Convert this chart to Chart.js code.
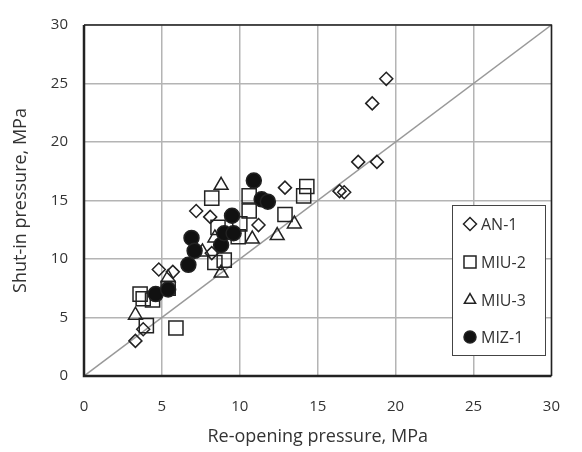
<!DOCTYPE html>
<html>
<head>
<meta charset="utf-8">
<script src="https://cdn.jsdelivr.net/npm/chart.js@4"></script>
<style>
  body { margin: 0; background: #fff; }
  #wrap { width: 582px; height: 452px; }
</style>
</head>
<body>
<div id="wrap"><canvas id="myChart" width="582" height="452"></canvas></div>
<script>
// Series values (re-opening pressure, shut-in pressure), MPa
let an1X  = [3.3, 3.8, 4.8, 5.7, 7.2, 8.1, 8.2, 11.2, 12.9, 16.4, 16.7, 17.6, 18.8, 18.5, 19.4];
let an1Y  = [3.0, 4.0, 9.1, 8.9, 14.1, 13.6, 10.5, 12.9, 16.1, 15.8, 15.7, 18.3, 18.3, 23.3, 25.4];
let miu2X = [3.6, 3.8, 4.4, 4.0, 5.9, 5.4, 8.4, 9.0, 8.6, 9.9, 10.0, 10.6, 10.6, 8.2, 12.9, 14.1, 14.3];
let miu2Y = [7.0, 6.6, 6.5, 4.3, 4.1, 7.5, 9.7, 9.9, 12.7, 11.9, 13.0, 14.1, 15.4, 15.2, 13.8, 15.4, 16.2];
let miu3X = [3.3, 5.4, 7.6, 8.4, 8.8, 8.8, 10.8, 12.4, 13.5];
let miu3Y = [5.2, 8.4, 10.6, 11.8, 8.8, 16.3, 11.7, 12.0, 13.0];
let miz1X = [4.6, 5.4, 6.7, 6.9, 7.1, 8.8, 9.0, 9.6, 9.5, 10.9, 11.4, 11.8];
let miz1Y = [7.0, 7.4, 9.5, 11.8, 10.7, 11.2, 12.2, 12.2, 13.7, 16.7, 15.1, 14.9];
let seriesNames = ['AN-1', 'MIU-2', 'MIU-3', 'MIZ-1'];
let tickValues = [0, 5, 10, 15, 20, 25, 30];

let fontFamily = '"Open Sans", "DejaVu Sans", sans-serif';

function toPoints(xs, ys) {
  let pts = [];
  for (let i = 0; i < xs.length; i++) {
    pts.push({x: xs[i], y: ys[i]});
  }
  return pts;
}

function markerSet(label, xs, ys, style, radius, filled, order) {
  return {
    label: label,
    data: toPoints(xs, ys),
    pointStyle: style,
    pointRadius: radius,
    pointHoverRadius: radius,
    pointBorderWidth: 1.5,
    borderColor: '#222',
    pointBorderColor: '#222',
    pointBackgroundColor: filled ? '#111' : 'rgba(0,0,0,0)',
    backgroundColor: filled ? '#111' : 'rgba(0,0,0,0)',
    showLine: false,
    order: order
  };
}

// Border box round the plot and the legend inside it
let framePlugin = {
  id: 'frame',
  afterDraw: function(chart) {
    let ctx = chart.ctx;
    let a = chart.chartArea;
    ctx.save();
    ctx.strokeStyle = '#222';
    ctx.lineWidth = 1.5;
    ctx.beginPath();
    ctx.moveTo(a.left, a.top);
    ctx.lineTo(a.right, a.top);
    ctx.lineTo(a.right, a.bottom);
    ctx.stroke();
    ctx.lineWidth = 2.5;
    ctx.beginPath();
    ctx.moveTo(a.left, a.top);
    ctx.lineTo(a.left, a.bottom);
    ctx.lineTo(a.right, a.bottom);
    ctx.stroke();

    // legend
    let bx = 452, by = 205, bw = 93, bh = 150;
    ctx.fillStyle = '#fff';
    ctx.fillRect(bx, by, bw, bh);
    ctx.strokeStyle = '#444';
    ctx.lineWidth = 1;
    ctx.strokeRect(bx + 0.5, by + 0.5, bw, bh);
    let rowY = [224, 262, 300, 337];
    ctx.font = '16px ' + fontFamily;
    ctx.textBaseline = 'middle';
    for (let i = 0; i < 4; i++) {
      let ds = chart.data.datasets[i];
      ctx.fillStyle = ds.pointBackgroundColor;
      ctx.strokeStyle = '#222';
      ctx.lineWidth = 1.5;
      Chart.helpers.drawPoint(ctx, {
        pointStyle: ds.pointStyle,
        radius: ds.pointStyle === 'circle' ? 6 : (ds.pointStyle === 'rect' ? 8.5 : 6.5),
        borderWidth: 1.5
      }, 470, rowY[i]);
      ctx.fillStyle = '#333';
      ctx.fillText(ds.label, 481, rowY[i] + 1);
    }
    ctx.restore();
  }
};

let ctx = document.getElementById('myChart');
let myChart = new Chart(ctx, {
  type: 'scatter',
  data: {
    datasets: [
      markerSet(seriesNames[0], an1X, an1Y, 'rectRot', 6.5, false, 4),
      markerSet(seriesNames[1], miu2X, miu2Y, 'rect', 10, false, 3),
      markerSet(seriesNames[2], miu3X, miu3Y, 'triangle', 8, false, 2),
      markerSet(seriesNames[3], miz1X, miz1Y, 'circle', 7.5, true, 1),
      {
        label: '1:1',
        data: [{x: 0, y: 0}, {x: 30, y: 30}],
        showLine: true,
        borderColor: '#999',
        borderWidth: 1.5,
        pointRadius: 0,
        order: 9
      }
    ]
  },
  options: {
    responsive: false,
    animation: false,
    layout: { padding: { top: 15, right: 9, left: 0, bottom: 0 } },
    plugins: {
      legend: { display: false },
      tooltip: { enabled: false }
    },
    scales: {
      x: {
        type: 'linear',
        min: 0,
        max: 30,
        afterBuildTicks: function(scale) {
          scale.ticks = tickValues.map(function(v) { return {value: v}; });
        },
        afterFit: function(scale) { scale.height = 76; },
        grid: { color: '#b4b4b4', lineWidth: 1.5, drawTicks: false },
        border: { display: false },
        ticks: { color: '#333', padding: 22, font: { family: fontFamily, size: 15 } },
        title: {
          display: true,
          text: 'Re-opening pressure, MPa',
          color: '#333',
          padding: { top: 4, bottom: 4 },
          font: { family: fontFamily, size: 18 }
        }
      },
      y: {
        type: 'linear',
        min: 0,
        max: 30,
        afterBuildTicks: function(scale) {
          scale.ticks = tickValues.map(function(v) { return {value: v}; });
        },
        afterFit: function(scale) { scale.width = 84; },
        grid: { color: '#b4b4b4', lineWidth: 1.5, drawTicks: false },
        border: { display: false },
        ticks: { color: '#333', padding: 16, font: { family: fontFamily, size: 15 } },
        title: {
          display: true,
          text: 'Shut-in pressure, MPa',
          color: '#333',
          padding: { top: 10, bottom: 4 },
          font: { family: fontFamily, size: 18 }
        }
      }
    }
  },
  plugins: [framePlugin]
});
</script>
</body>
</html>
